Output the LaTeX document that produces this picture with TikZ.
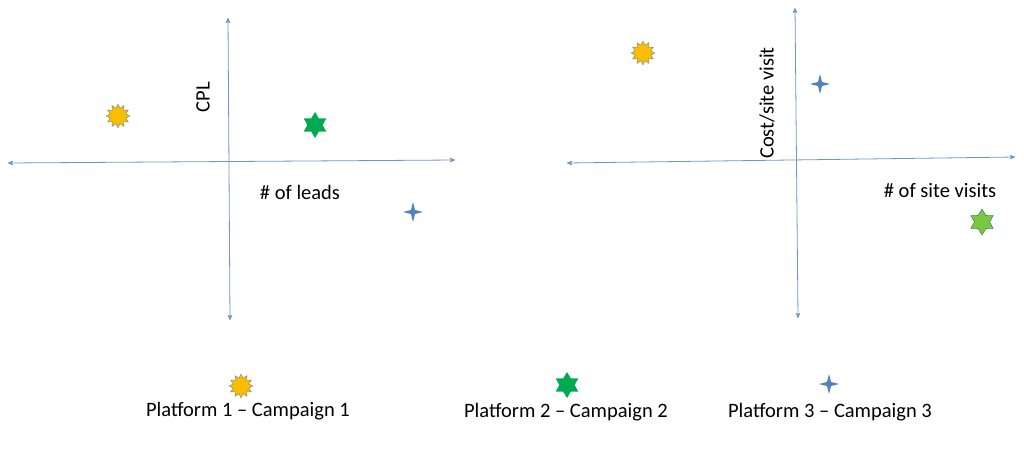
\documentclass[tikz,border=0pt]{standalone}
\usepackage{fontspec}
\setmainfont{Carlito}
\usetikzlibrary{shapes.geometric,arrows}
\definecolor{axisblue}{RGB}{110,150,200}
\definecolor{sunyellow}{RGB}{250,190,0}
\definecolor{stargreen}{RGB}{0,170,80}
\definecolor{lightgreen}{RGB}{120,200,70}
\definecolor{crossblue}{RGB}{80,130,190}
\begin{document}
\begin{tikzpicture}[x=1pt,y=-1pt,>=stealth']
  \tikzset{
    axis/.style={axisblue, line width=0.8pt, <->},
    lbl/.style={font=\fontsize{20.5}{24}\selectfont},
    sun/.style={star, star points=12, star point ratio=1.5, fill=sunyellow, draw=gray, minimum size=24pt, inner sep=0pt},
    hexstar/.style={star, star points=6, star point ratio=1.7, fill=stargreen, minimum size=26pt, inner sep=0pt},
    fourstar/.style={star, star points=4, star point ratio=3.5, fill=crossblue, minimum size=20pt, inner sep=0pt},
  }
  \useasboundingbox (0,0) rectangle (1024,455);
  % left chart
  \coordinate (lw) at (8,163);  \coordinate (le) at (455,160);
  \coordinate (ln) at (228,18); \coordinate (ls) at (230,320);
  \draw [axis] (lw) -- (le);
  \draw [axis] (ln) -- (ls);
  \node (cpl) at (203,97) [lbl, rotate=90] {CPL};
  \node (leads) at (300,192) [lbl] {\# of leads};
  \node (s1) at (118,116) [sun] {};
  \node (g1) at (315,125) [hexstar] {};
  \node (b1) at (413,212) [fourstar] {};
  % right chart
  \coordinate (rw) at (567,163);  \coordinate (re) at (1015,157);
  \coordinate (rn) at (795,8);    \coordinate (rs) at (798,318);
  \draw [axis] (rw) -- (re);
  \draw [axis] (rn) -- (rs);
  \node (cost) at (767,103) [lbl, rotate=90] {Cost/site visit};
  \node (visits) at (940,191) [lbl] {\# of site visits};
  \node (s2) at (643,53) [sun] {};
  \node (b2) at (820,84) [fourstar] {};
  \node (g2) at (982,222) [hexstar, fill=lightgreen, draw=stargreen!60!black, line width=0.3pt] {};
  % legend
  \node (ls1) at (241,386) [sun] {};
  \node (lt1) at (248,411) [lbl] {Platform 1 – Campaign 1};
  \node (lg2) at (567,385) [hexstar] {};
  \node (lt2) at (566,412) [lbl] {Platform 2 – Campaign 2};
  \node (lb3) at (829,384) [fourstar] {};
  \node (lt3) at (830,412) [lbl] {Platform 3 – Campaign 3};
\end{tikzpicture}
\end{document}
